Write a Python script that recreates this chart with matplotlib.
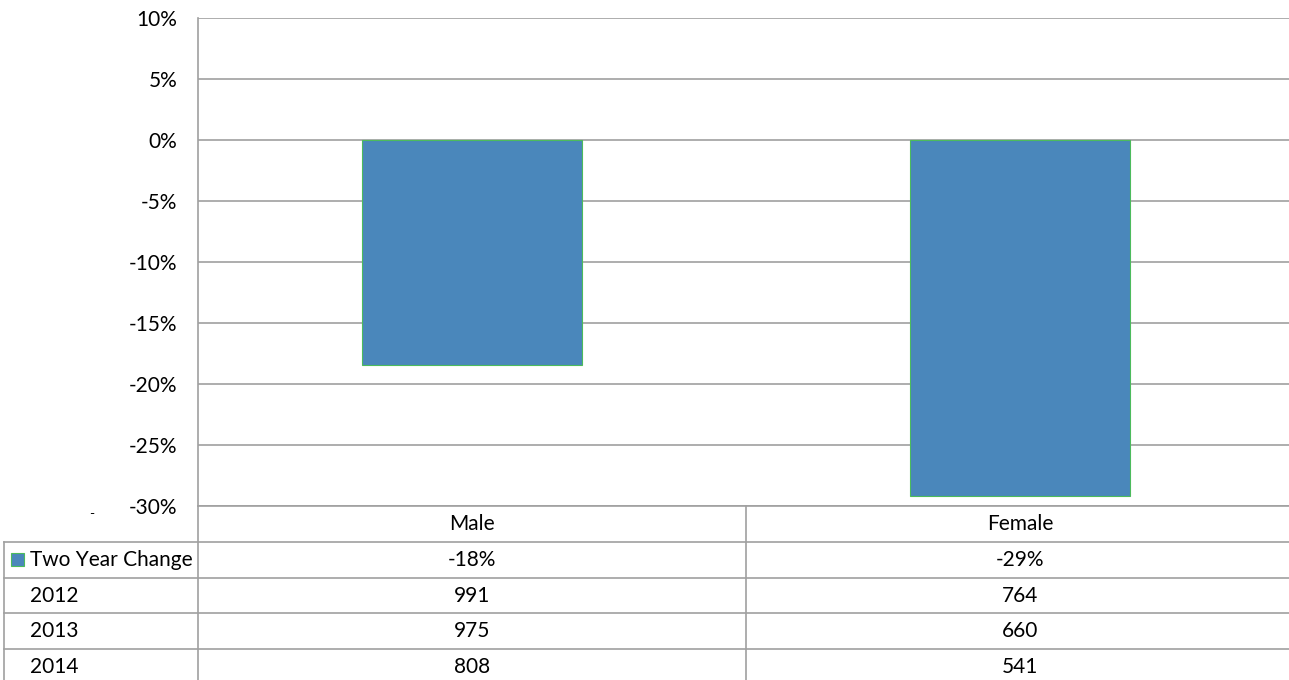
import matplotlib
matplotlib.use("Agg")
from matplotlib import pyplot as plt
from matplotlib.ticker import FuncFormatter

categories = ["Male", "Female"]
years = ["2012", "2013", "2014"]
counts_2012 = [991, 764]
counts_2013 = [975, 660]
counts_2014 = [808, 541]
series_name = "Two Year Change"

change = [(b - a) / a for a, b in zip(counts_2012, counts_2014)]

W, H = 1289, 680
plt.rcParams['font.family'] = ['Lato', 'DejaVu Sans']
fig = plt.figure(figsize=(W / 100, H / 100), dpi=100)

bar_col = '#4a87bb'
edge_col = '#4cbb5c'
grid_col = '#a0a0a0'
fs = 15

# plot area in pixel coords
px_l, px_r, px_t, px_b = 198, 1294, 18, 506
ax = fig.add_axes([px_l / W, (H - px_b) / H, (px_r - px_l) / W, (px_b - px_t) / H])
ax.bar(range(len(categories)), change, width=0.4, color=bar_col,
       edgecolor=edge_col, linewidth=0.8, zorder=3)
ax.set_xlim(-0.5, len(categories) - 0.5)
ax.set_ylim(-0.30, 0.10)
ax.set_yticks([-0.30, -0.25, -0.20, -0.15, -0.10, -0.05, 0, 0.05, 0.10])
ax.yaxis.set_major_formatter(FuncFormatter(lambda v, p: f"{v * 100:.0f}%"))
ax.grid(axis='y', color=grid_col, linewidth=1.2, zorder=0)
ax.set_xticks([])
ax.tick_params(axis='y', length=0, labelsize=fs, pad=15)
for s in ['top', 'right', 'bottom']:
    ax.spines[s].set_visible(False)
ax.spines['left'].set_color(grid_col)
ax.spines['left'].set_linewidth(1.2)

# data table below
tb = fig.add_axes([0, 0, 1, 1], facecolor='none')
tb.set_xlim(0, W)
tb.set_ylim(H, 0)
tb.axis('off')

row_h = 35.8
rows = [series_name] + years
values = [[f"{v * 100:.0f}%" for v in change], counts_2012, counts_2013, counts_2014]
col_w = (px_r - px_l) / len(categories)

lw = 1.2
# horizontal lines
tb.plot([px_l, W], [px_b, px_b], color=grid_col, lw=lw)
for i in range(1, len(rows) + 1):
    y = px_b + i * row_h
    tb.plot([4, W], [y, y], color=grid_col, lw=lw)
# vertical lines
tb.plot([px_l, px_l], [px_b, H], color=grid_col, lw=lw)
tb.plot([4, 4], [px_b + row_h, H], color=grid_col, lw=lw)
for j in range(1, len(categories)):
    x = px_l + j * col_w
    tb.plot([x, x], [px_b, H], color=grid_col, lw=lw)

for j, c in enumerate(categories):
    tb.text(px_l + (j + 0.5) * col_w, px_b + row_h / 2, c, ha='center', va='center', fontsize=fs)
for i, (r, vals) in enumerate(zip(rows, values)):
    yc = px_b + (i + 1.5) * row_h
    if i == 0:
        tb.add_patch(plt.Rectangle((11, yc - 6.5), 13, 13, facecolor=bar_col,
                                   edgecolor=edge_col, lw=0.8))
    tb.text(30, yc, r, ha='left', va='center', fontsize=fs)
    for j, v in enumerate(vals):
        tb.text(px_l + (j + 0.5) * col_w, yc, str(v), ha='center', va='center', fontsize=fs)

tb.text(92, 514, "-", ha='center', va='center', fontsize=10)

fig.savefig("out.png", dpi=100)
